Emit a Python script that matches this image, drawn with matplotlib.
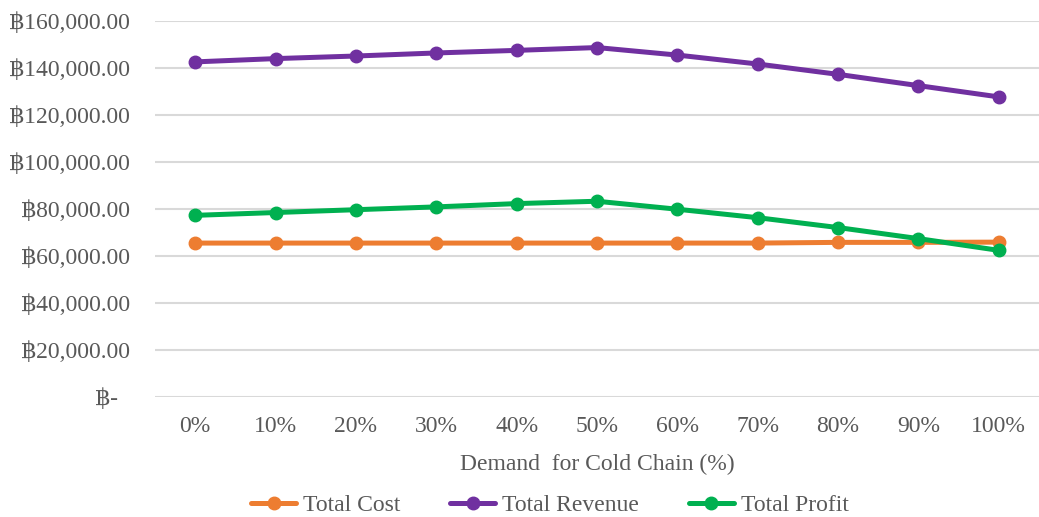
import numpy as np
import matplotlib.pyplot as plt
from matplotlib.ticker import FuncFormatter

plt.rcParams['font.family'] = ['Liberation Serif', 'DejaVu Serif', 'DejaVu Sans', 'Noto Sans']

# demand share for cold chain
demand = ['0%', '10%', '20%', '30%', '40%', '50%', '60%', '70%', '80%', '90%', '100%']

total_cost = [65500, 65500, 65500, 65500, 65500, 65500, 65500, 65500, 65800, 65800, 65900]
total_revenue = [142600, 144000, 145100, 146400, 147500, 148700, 145500, 141700, 137300, 132500, 127700]
total_profit = [77300, 78500, 79700, 80900, 82300, 83300, 79900, 76300, 72100, 67400, 62400]

c_cost = '#ED7D31'
c_rev = '#7030A0'
c_prof = '#00B050'
txt = '#595959'

fig = plt.figure(figsize=(10.39, 5.17), dpi=100)
ax = fig.add_axes([155/1039, 1 - 397/517, (1039 - 155)/1039, (397 - 21)/517])

x = np.arange(len(demand))
kw = dict(lw=3.6, marker='o', ms=9, solid_capstyle='round')
ax.plot(x, total_cost, color=c_cost, label='Total Cost', **kw)
ax.plot(x, total_revenue, color=c_rev, label='Total Revenue', **kw)
ax.plot(x, total_profit, color=c_prof, label='Total Profit', **kw)

ax.set_xlim(-0.5, len(demand) - 0.5)
ax.set_ylim(0, 160000)
ax.set_yticks(np.arange(0, 160001, 20000))


def baht(v, pos):
    if v == 0:
        return '\u0e3f-  '
    return '\u0e3f{:,.2f}'.format(v)


ax.yaxis.set_major_formatter(FuncFormatter(baht))
ax.set_xticks(x)
ax.set_xticklabels(demand)
ax.tick_params(length=0, labelsize=17, colors=txt)
ax.tick_params(axis='y', pad=18)
ax.tick_params(axis='x', pad=14)
ax.grid(axis='y', color='#D9D9D9', lw=1.5)
ax.set_axisbelow(True)
for s in ax.spines.values():
    s.set_visible(False)

ax.set_xlabel('Demand  for Cold Chain (%)', fontsize=17, color=txt, labelpad=12)

ax.legend(loc='upper center', bbox_to_anchor=(0.5 - 47/884, -0.215), ncol=3, frameon=False,
          fontsize=17, labelcolor=txt, handlelength=1.9, handletextpad=0.3,
          columnspacing=2.1, borderpad=0.2)

fig.savefig('out.png', dpi=100)
